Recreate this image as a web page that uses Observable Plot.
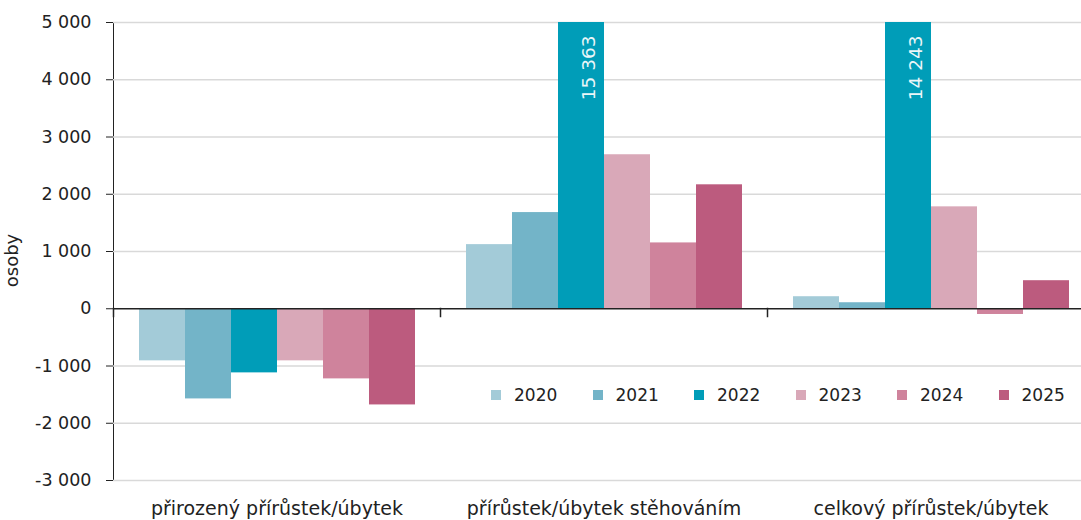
<!DOCTYPE html>
<html><head><meta charset="utf-8">
<script src="https://cdn.jsdelivr.net/npm/d3@7"></script>
<script src="https://cdn.jsdelivr.net/npm/@observablehq/plot@0.6"></script>
<style>
html,body{margin:0;padding:0;background:#fff;overflow:hidden;}
#wrap{position:relative;width:1081px;height:520px;overflow:hidden;font-family:"DejaVu Sans",sans-serif;}
#legend{position:absolute;left:491px;top:386px;display:flex;font-size:17px;color:#222;line-height:18px;}
.item{display:flex;align-items:center;width:101.5px;}
.sw{width:10px;height:10px;margin-right:13px;flex:none;}
</style></head><body><div id="wrap"><div id="legend"></div></div>
<script>
const groups = ["přirozený přírůstek/úbytek", "přírůstek/úbytek stěhováním", "celkový přírůstek/úbytek"];
const years = ["2020", "2021", "2022", "2023", "2024", "2025"];
const natural = [-910, -1575, -1120, -910, -1225, -1680];
const migration = [1120, 1680, 15363, 2690, 1150, 2165];
const total = [210, 105, 14243, 1780, -100, 490];
const colors = ["#a3cbd8", "#73b4c8", "#009db8", "#d9a8b8", "#cf839c", "#bc5b7e"];
const yTicks = [-3000, -2000, -1000, 0, 1000, 2000, 3000, 4000, 5000];
const yLabel = "osoby";

const series = [natural, migration, total];
const fmt = d3.formatLocale({decimal: ",", thousands: "\u00a0", grouping: [3], minus: "-"}).format(",");
const data = [];
groups.forEach((g, gi) => years.forEach((y, yi) => data.push({group: g, year: y, value: series[gi][yi]})));
const font = '"DejaVu Sans",sans-serif';

const plot = Plot.plot({
  width: 1094, height: 520, marginTop: 22, marginBottom: 40, marginLeft: 113, marginRight: 0,
  style: {fontFamily: font, fontSize: "17.5px", color: "#222", background: "transparent", maxWidth: "none", overflow: "visible"},
  fx: {domain: groups, padding: 0, label: null},
  x: {domain: years, paddingInner: 0, paddingOuter: 0.54, axis: null},
  y: {domain: [-3000, 5000], clamp: true, ticks: yTicks, tickFormat: fmt, tickSize: 7, tickPadding: 15, label: null, line: true},
  color: {domain: years, range: colors},
  marks: [
    Plot.ruleY(yTicks.filter(t => t !== 0), {stroke: "#d9d9d9", strokeWidth: 1.5}),
    Plot.barY(data, {fx: "group", x: "year", y: "value", fill: "year"}),
    Plot.text(data, {filter: d => d.value > 5000, fx: "group", x: "year", frameAnchor: "top", text: d => fmt(d.value), rotate: -90, textAnchor: "end", dy: 13, fill: "#eaf6f8", fontSize: 18.5}),
    Plot.ruleY([0], {stroke: "#222", strokeWidth: 1.7}),
    Plot.frame({anchor: "left", insetTop: 286, insetBottom: 164, stroke: "#222", strokeWidth: 1.5}),
    Plot.axisFx({anchor: "bottom", tickSize: 0, tickPadding: 21, fontSize: 19, label: null}),
    Plot.text([yLabel], {frameAnchor: "left", dx: -101, dy: 9, rotate: -90, textAnchor: "middle", facetAnchor: "left", fill: "#222", fontSize: 18})
  ]
});
document.getElementById("wrap").prepend(plot);

const legend = document.getElementById("legend");
years.forEach((y, i) => {
  const it = document.createElement("div"); it.className = "item";
  const sw = document.createElement("div"); sw.className = "sw"; sw.style.background = colors[i];
  const t = document.createElement("span"); t.textContent = y;
  it.append(sw, t); legend.append(it);
});
</script></body></html>
